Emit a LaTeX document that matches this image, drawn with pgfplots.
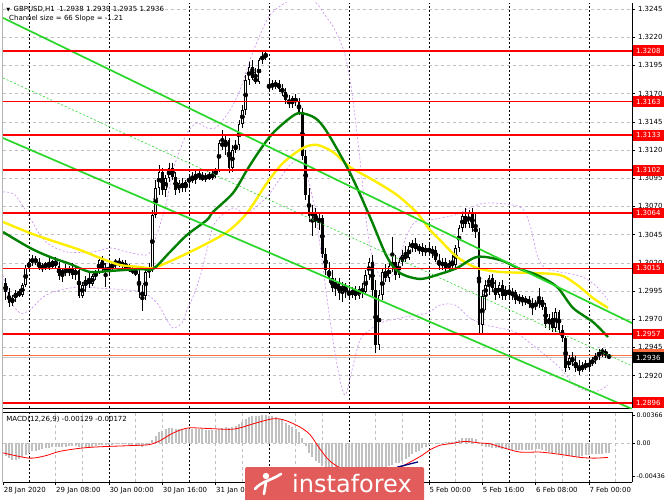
\documentclass[border=0pt]{standalone}
\usepackage{pgfplots}
\pgfplotsset{compat=1.18}
\usepackage{pgfplotstable}
\usepackage{fontspec}
\setmainfont{DejaVu Sans}
\definecolor{mtred}{RGB}{255,0,0}
\definecolor{chan}{RGB}{40,215,40}
\definecolor{maA}{RGB}{0,128,0}
\definecolor{maB}{RGB}{255,238,0}
\definecolor{bbc}{RGB}{200,140,240}
\definecolor{gridc}{RGB}{192,192,192}
\definecolor{histc}{RGB}{192,192,192}
\definecolor{wm}{RGB}{226,92,92}
\definecolor{askc}{RGB}{255,110,60}

\pgfplotstableread{
i o h l c
-7 1.30021 1.30066 1.29871 1.29942
-6 1.29942 1.29977 1.29809 1.29844
-5 1.29844 1.29915 1.29817 1.29888
-4 1.29888 1.29959 1.29853 1.29933
-3 1.29933 1.29968 1.29897 1.29915
-2 1.29915 1.30021 1.29897 1.30004
-1 1.30004 1.30181 1.29986 1.30154
0 1.30154 1.30243 1.30119 1.30208
1 1.30208 1.30270 1.30172 1.30234
2 1.30234 1.30261 1.30181 1.30208
3 1.30208 1.30243 1.30137 1.30154
4 1.30154 1.30199 1.30119 1.30172
5 1.30172 1.30208 1.30137 1.30190
6 1.30190 1.30243 1.30137 1.30163
7 1.30163 1.30225 1.30145 1.30216
8 1.30216 1.30252 1.30154 1.30172
9 1.30172 1.30208 1.30048 1.30083
10 1.30083 1.30154 1.30030 1.30137
11 1.30137 1.30190 1.30083 1.30119
12 1.30119 1.30172 1.30083 1.30154
13 1.30154 1.30199 1.30057 1.30092
14 1.30092 1.30172 1.30048 1.30137
15 1.30137 1.30154 1.29888 1.29906
16 1.29906 1.30030 1.29888 1.30004
17 1.30004 1.30083 1.29942 1.30048
18 1.30048 1.30119 1.29977 1.30012
19 1.30012 1.30101 1.29995 1.30083
20 1.30083 1.30137 1.30048 1.30119
21 1.30119 1.30243 1.30101 1.30225
22 1.30225 1.30261 1.30119 1.30154
23 1.30154 1.30199 1.29986 1.30128
24 1.30128 1.30190 1.30101 1.30163
25 1.30163 1.30208 1.30137 1.30190
26 1.30190 1.30234 1.30154 1.30216
27 1.30216 1.30243 1.30163 1.30181
28 1.30181 1.30225 1.30154 1.30199
29 1.30199 1.30225 1.30137 1.30154
30 1.30154 1.30190 1.30119 1.30137
31 1.30137 1.30172 1.30101 1.30128
32 1.30128 1.30163 1.30083 1.30101
33 1.30101 1.30137 1.29888 1.29942
34 1.29942 1.30004 1.29773 1.29906
35 1.29906 1.30154 1.29871 1.30119
36 1.30119 1.30199 1.30066 1.30154
37 1.30154 1.30668 1.30119 1.30624
38 1.30624 1.30934 1.30598 1.30863
39 1.30863 1.31067 1.30801 1.31005
40 1.31005 1.31041 1.30801 1.30846
41 1.30846 1.30979 1.30784 1.30952
42 1.30952 1.31085 1.30917 1.31041
43 1.31041 1.31085 1.30934 1.30961
44 1.30961 1.31005 1.30801 1.30846
45 1.30846 1.30934 1.30819 1.30908
46 1.30908 1.30952 1.30828 1.30863
47 1.30863 1.30934 1.30828 1.30917
48 1.30917 1.30979 1.30881 1.30952
49 1.30952 1.31005 1.30908 1.30934
50 1.30934 1.31014 1.30899 1.30988
51 1.30988 1.31023 1.30934 1.30961
52 1.30961 1.31005 1.30926 1.30943
53 1.30943 1.30997 1.30917 1.30970
54 1.30970 1.31005 1.30934 1.30952
55 1.30952 1.31014 1.30934 1.30988
56 1.30988 1.31041 1.30952 1.31023
57 1.31023 1.31289 1.31005 1.31262
58 1.31262 1.31378 1.31200 1.31236
59 1.31236 1.31333 1.31156 1.31289
60 1.31289 1.31307 1.30997 1.31041
61 1.31041 1.31245 1.31005 1.31200
62 1.31200 1.31289 1.31174 1.31245
63 1.31245 1.31466 1.31200 1.31431
64 1.31431 1.31599 1.31395 1.31555
65 1.31555 1.31865 1.31511 1.31821
66 1.31821 1.31981 1.31777 1.31936
67 1.31936 1.31998 1.31821 1.31839
68 1.31839 1.31927 1.31785 1.31803
69 1.31803 1.32016 1.31785 1.31998
70 1.31998 1.32069 1.31963 1.32034
71 1.32034 1.32087 1.31998 1.32043
72 1.31750 1.31821 1.31715 1.31777
73 1.31777 1.31821 1.31732 1.31768
74 1.31768 1.31821 1.31741 1.31794
75 1.31794 1.31821 1.31715 1.31741
76 1.31741 1.31785 1.31679 1.31715
77 1.31715 1.31750 1.31608 1.31644
78 1.31644 1.31688 1.31573 1.31608
79 1.31608 1.31679 1.31573 1.31661
80 1.31661 1.31697 1.31590 1.31626
81 1.31626 1.31661 1.31511 1.31537
82 1.31537 1.31573 1.31112 1.31147
83 1.31147 1.31200 1.30757 1.30801
84 1.30801 1.30863 1.30562 1.30615
85 1.30615 1.30713 1.30438 1.30651
86 1.30651 1.30686 1.30509 1.30562
87 1.30562 1.30651 1.30491 1.30598
88 1.30598 1.30624 1.30243 1.30278
89 1.30278 1.30332 1.30092 1.30137
90 1.30137 1.30208 1.30021 1.30066
91 1.30066 1.30137 1.29942 1.29977
92 1.29977 1.30066 1.29906 1.30030
93 1.30030 1.30066 1.29871 1.29933
94 1.29933 1.30030 1.29853 1.29995
95 1.29995 1.30021 1.29888 1.29942
96 1.29942 1.30004 1.29871 1.29915
97 1.29915 1.29986 1.29888 1.29959
98 1.29959 1.29995 1.29871 1.29906
99 1.29906 1.29995 1.29880 1.29968
100 1.29968 1.30021 1.29888 1.29942
101 1.29942 1.30137 1.29924 1.30092
102 1.30092 1.30243 1.30048 1.30208
103 1.30208 1.30270 1.29906 1.29959
104 1.29959 1.30048 1.29401 1.29472
105 1.29472 1.29959 1.29427 1.29915
106 1.29915 1.30154 1.29871 1.30119
107 1.30119 1.30190 1.30030 1.30066
108 1.30066 1.30208 1.30030 1.30172
109 1.30172 1.30429 1.30119 1.30208
110 1.30208 1.30270 1.30048 1.30092
111 1.30092 1.30243 1.30066 1.30208
112 1.30208 1.30314 1.30172 1.30270
113 1.30270 1.30349 1.30208 1.30243
114 1.30243 1.30385 1.30225 1.30349
115 1.30349 1.30402 1.30296 1.30367
116 1.30367 1.30420 1.30296 1.30323
117 1.30323 1.30367 1.30278 1.30340
118 1.30340 1.30376 1.30261 1.30296
119 1.30296 1.30358 1.30261 1.30332
120 1.30332 1.30367 1.30261 1.30296
121 1.30296 1.30349 1.30243 1.30314
122 1.30314 1.30349 1.30208 1.30225
123 1.30225 1.30278 1.30137 1.30172
124 1.30172 1.30243 1.30137 1.30208
125 1.30208 1.30243 1.30119 1.30154
126 1.30154 1.30225 1.30119 1.30199
127 1.30199 1.30270 1.30137 1.30181
128 1.30181 1.30358 1.30154 1.30332
129 1.30332 1.30535 1.30296 1.30509
130 1.30509 1.30651 1.30473 1.30615
131 1.30615 1.30686 1.30509 1.30543
132 1.30543 1.30668 1.30509 1.30642
133 1.30642 1.30686 1.30473 1.30509
134 1.30509 1.30633 1.30420 1.30473
135 1.30473 1.30509 1.29560 1.29649
136 1.29649 1.29959 1.29569 1.29906
137 1.29906 1.30048 1.29782 1.30004
138 1.30004 1.30092 1.29915 1.30066
139 1.30066 1.30101 1.29942 1.29977
140 1.29977 1.30048 1.29871 1.29915
141 1.29915 1.30030 1.29888 1.30004
142 1.30004 1.30048 1.29871 1.29906
143 1.29906 1.29995 1.29871 1.29959
144 1.29959 1.30004 1.29888 1.29915
145 1.29915 1.29977 1.29871 1.29942
146 1.29942 1.29959 1.29835 1.29871
147 1.29871 1.29924 1.29835 1.29897
148 1.29897 1.29915 1.29817 1.29853
149 1.29853 1.29906 1.29826 1.29880
150 1.29880 1.29906 1.29800 1.29835
151 1.29835 1.29888 1.29738 1.29817
152 1.29817 1.29871 1.29782 1.29844
153 1.29844 1.29977 1.29800 1.29871
154 1.29871 1.29897 1.29782 1.29809
155 1.29809 1.29844 1.29622 1.29658
156 1.29658 1.29747 1.29605 1.29711
157 1.29711 1.29764 1.29587 1.29622
158 1.29622 1.29800 1.29587 1.29764
159 1.29764 1.29782 1.29578 1.29605
160 1.29605 1.29649 1.29498 1.29534
161 1.29534 1.29552 1.29232 1.29268
162 1.29268 1.29383 1.29250 1.29356
163 1.29356 1.29410 1.29286 1.29321
164 1.29321 1.29374 1.29232 1.29268
165 1.29268 1.29339 1.29206 1.29250
166 1.29250 1.29321 1.29232 1.29294
167 1.29294 1.29339 1.29250 1.29277
168 1.29277 1.29339 1.29250 1.29312
169 1.29312 1.29365 1.29286 1.29339
170 1.29339 1.29401 1.29303 1.29374
171 1.29374 1.29436 1.29339 1.29410
172 1.29410 1.29445 1.29365 1.29418
173 1.29418 1.29436 1.29356 1.29383
174 1.29380 1.29390 1.29350 1.29360
}\candles

\pgfplotstableread{
i v
-7 -0.0017
-6 -0.0020
-5 -0.0022
-4 -0.0022
-3 -0.0021
-2 -0.0019
-1 -0.0016
0 -0.0013
1 -0.0011
2 -0.0010
3 -0.0009
4 -0.0008
5 -0.0007
6 -0.0006
7 -0.0005
8 -0.0005
9 -0.0005
10 -0.0005
11 -0.0005
12 -0.0004
13 -0.0004
14 -0.0004
15 -0.0005
16 -0.0006
17 -0.0006
18 -0.0005
19 -0.0005
20 -0.0004
21 -0.0003
22 -0.0003
23 -0.0003
24 -0.0003
25 -0.0003
26 -0.0002
27 -0.0002
28 -0.0002
29 -0.0002
30 -0.0003
31 -0.0003
32 -0.0003
33 -0.0004
34 -0.0005
35 -0.0003
36 -0.0001
37 0.0004
38 0.0009
39 0.0014
40 0.0016
41 0.0018
42 0.0020
43 0.0020
44 0.0019
45 0.0019
46 0.0019
47 0.0019
48 0.0019
49 0.0018
50 0.0018
51 0.0018
52 0.0018
53 0.0017
54 0.0017
55 0.0017
56 0.0017
57 0.0019
58 0.0020
59 0.0021
60 0.0020
61 0.0021
62 0.0022
63 0.0025
64 0.0028
65 0.0031
66 0.0034
67 0.0035
68 0.0035
69 0.0036
70 0.0037
71 0.0037
72 0.0036
73 0.0035
74 0.0034
75 0.0032
76 0.0030
77 0.0027
78 0.0024
79 0.0021
80 0.0018
81 0.0014
82 0.0006
83 -0.0004
84 -0.0013
85 -0.0019
86 -0.0024
87 -0.0027
88 -0.0031
89 -0.0035
90 -0.0038
91 -0.0041
92 -0.0042
93 -0.0043
94 -0.0044
95 -0.0044
96 -0.0043
97 -0.0042
98 -0.0041
99 -0.0040
100 -0.0038
101 -0.0036
102 -0.0033
103 -0.0033
104 -0.0037
105 -0.0036
106 -0.0034
107 -0.0032
108 -0.0030
109 -0.0029
110 -0.0027
111 -0.0026
112 -0.0024
113 -0.0021
114 -0.0018
115 -0.0015
116 -0.0012
117 -0.0010
118 -0.0007
119 -0.0005
120 -0.0003
121 -0.0002
122 -0.0001
123 -0.0001
124 0.0000
125 0.0001
126 0.0001
127 0.0001
128 0.0002
129 0.0004
130 0.0006
131 0.0007
132 0.0007
133 0.0006
134 0.0005
135 -0.0002
136 -0.0004
137 -0.0005
138 -0.0005
139 -0.0006
140 -0.0007
141 -0.0007
142 -0.0008
143 -0.0008
144 -0.0009
145 -0.0009
146 -0.0009
147 -0.0009
148 -0.0009
149 -0.0009
150 -0.0009
151 -0.0009
152 -0.0008
153 -0.0008
154 -0.0009
155 -0.0011
156 -0.0012
157 -0.0013
158 -0.0013
159 -0.0014
160 -0.0015
161 -0.0016
162 -0.0017
163 -0.0017
164 -0.0018
165 -0.0018
166 -0.0017
167 -0.0016
168 -0.0016
169 -0.0015
170 -0.0015
171 -0.0014
172 -0.0014
173 -0.0013
174 -0.0013
}\hist

\begin{document}
\begin{tikzpicture}
\useasboundingbox (0,0) rectangle (665pt,499pt);
\fill[white] (0,0) rectangle (665pt,499pt);

% ---------------- main price panel ----------------
\begin{axis}[
  at={(3pt,91pt)}, anchor=south west, scale only axis,
  width=629pt, height=405pt,
  xmin=-7.8, xmax=180.9, ymin=1.289128, ymax=1.325032,
  clip mode=individual,
  axis x line*=bottom, axis y line*=right,
  axis line style={-, black, line width=0.6pt},
  xtick=\empty,
  minor xtick={8,16,32,40,56,64,80,88,104,112,128,136,152,160,176},
  xminorgrids=true,
  minor grid style={gridc, dash pattern=on 3pt off 3pt, line width=0.5pt},
  minor tick length=0pt,
  extra x ticks={0,24,48,72,96,120,144,168},
  extra x tick labels={},
  extra x tick style={xmajorgrids=true, major tick length=0pt,
     major grid style={black, dash pattern=on 2pt off 2pt, line width=0.6pt}},
  ytick={1.2920,1.2945,1.2970,1.2995,1.3020,1.3045,1.3070,1.3095,1.3120,1.3145,1.3170,1.3195,1.3220,1.3245},
  yticklabels={1.2920,1.2945,1.2970,1.2995,1.3020,1.3045,1.3070,1.3095,1.3120,1.3145,1.3170,1.3195,1.3220,1.3245},
  scaled y ticks=false,
  ymajorgrids=true,
  major grid style={gridc, dash pattern=on 3pt off 3pt, line width=0.5pt},
  tick align=outside, major tick length=3pt,
  ytick style={black, line width=0.5pt},
  yticklabel style={font=\fontsize{7}{8}\selectfont, xshift=-0.5pt},
]
% bid / ask lines
\addplot[gray!45, line width=1.6pt, forget plot] coordinates {(-7.8,1.2936) (180.9,1.2936)};
\addplot[askc, line width=0.8pt, forget plot] coordinates {(-7.8,1.2938) (180.9,1.2938)};

% Bollinger bands
\addplot[bbc, line width=0.6pt, dash pattern=on 2pt off 2pt, smooth, tension=0.5, forget plot] coordinates {
(-7.8,1.30828) (-4.2,1.30801) (0.3,1.30598) (3.3,1.30447) (6.3,1.30358) (11.4,1.30296) (19.2,1.30296) (24.3,1.30332) (29.4,1.30296) (35.4,1.30270) (37.2,1.30358) (39.3,1.30535) (41.4,1.30757) (43.2,1.31023) (45.3,1.31200) (47.4,1.31351) (50.4,1.31440) (53.4,1.31395) (56.4,1.31404) (60.3,1.31555) (63.3,1.31732) (66.3,1.31998) (69.3,1.32220) (72.3,1.32397) (76.8,1.32504) (81.3,1.32548) (85.8,1.32512) (88.8,1.32397) (91.8,1.32264) (94.8,1.32043) (96.9,1.31706) (99.3,1.31112) (101.4,1.30518) (103.2,1.30225) (106.2,1.30048) (109.8,1.30119) (112.8,1.30402) (115.8,1.30562) (120.3,1.30580) (127.8,1.30624) (132.3,1.30686) (137.4,1.30731) (147.3,1.30695) (150.3,1.30535) (152.4,1.30270) (154.8,1.30154) (159.3,1.30119) (165.3,1.30083) (169.8,1.30004) (173.7,1.29871)};
\addplot[bbc, line width=0.6pt, dash pattern=on 2pt off 2pt, smooth, tension=0.5, forget plot] coordinates {
(-7.8,1.30092) (-5.7,1.29871) (-2.7,1.29755) (0.3,1.29782) (4.2,1.29897) (9.3,1.29959) (15.3,1.29986) (20.4,1.29977) (29.4,1.29959) (34.2,1.29942) (38.4,1.29844) (41.4,1.29693) (43.2,1.29622) (45.9,1.29667) (47.4,1.29782) (49.2,1.29897) (51.3,1.30075) (53.4,1.30314) (55.2,1.30518) (57.3,1.30606) (61.2,1.30686) (65.4,1.30642) (71.4,1.30784) (74.4,1.30908) (78.3,1.31067) (81.3,1.31112) (83.4,1.30979) (85.8,1.30668) (87.9,1.30225) (90.3,1.29693) (92.7,1.29250) (94.8,1.29028) (96.9,1.29250) (99.3,1.29516) (102.3,1.29605) (105.3,1.29667) (111.3,1.29711) (119.4,1.29755) (123.3,1.29826) (127.8,1.29826) (132.3,1.29711) (136.8,1.29649) (141.3,1.29622) (145.8,1.29587) (150.3,1.29489) (154.8,1.29383) (159.3,1.29268) (163.8,1.29117) (168.3,1.29055) (171.3,1.29072) (173.7,1.29117)};

% candles: wicks
\addplot[only marks, mark=none, forget plot,
  error bars/.cd, y dir=both, y explicit, error mark=none,
  error bar style={black, line width=0.7pt}]
  table[x=i, y expr={(\thisrow{h}+\thisrow{l})/2}, y error expr={(\thisrow{h}-\thisrow{l})/2}] {\candles};
% candles: bodies
\addplot[only marks, mark=none, forget plot,
  error bars/.cd, y dir=both, y explicit, error mark=none,
  error bar style={black, line width=2.6pt}]
  table[x=i, y expr={(\thisrow{o}+\thisrow{c})/2}, y error expr={max(abs(\thisrow{o}-\thisrow{c})/2,0.00004)}] {\candles};
% bullish bodies: white inside
\addplot[only marks, mark=none, forget plot,
  error bars/.cd, y dir=both, y explicit, error mark=none,
  error bar style={white, line width=1.0pt}]
  table[x=i, y expr={(\thisrow{o}+\thisrow{c})/2}, y error expr={(\thisrow{c}>\thisrow{o})*max(abs(\thisrow{c}-\thisrow{o})/2-0.00007,0)}] {\candles};

% moving averages
\addplot[maB, line width=2.4pt, smooth, tension=0.5, forget plot] coordinates {
(-7.8,1.30562) (0.3,1.30464) (6.3,1.30402) (15.3,1.30314) (21.3,1.30243) (27.3,1.30181) (33.3,1.30163) (37.2,1.30154) (43.2,1.30225) (51.3,1.30340) (59.4,1.30473) (65.4,1.30642) (71.4,1.30908) (76.2,1.31085) (82.2,1.31218) (86.4,1.31245) (91.2,1.31182) (96.3,1.31049) (103.2,1.30934) (110.4,1.30801) (116.4,1.30642) (120.3,1.30491) (123.3,1.30402) (128.4,1.30252) (134.4,1.30154) (141.3,1.30119) (150.3,1.30110) (159.3,1.30092) (164.4,1.30004) (169.2,1.29888) (173.7,1.29800)};
\addplot[maA, line width=2.4pt, smooth, tension=0.5, forget plot] coordinates {
(-7.8,1.30473) (0.3,1.30332) (6.3,1.30252) (12.3,1.30190) (18.3,1.30119) (24.3,1.30128) (33.3,1.30145) (37.2,1.30145) (42.3,1.30296) (47.4,1.30447) (53.4,1.30580) (55.2,1.30651) (61.2,1.30819) (65.4,1.31023) (69.3,1.31200) (73.2,1.31351) (78.3,1.31484) (81.3,1.31528) (85.8,1.31484) (89.4,1.31360) (96.3,1.30997) (102.3,1.30606) (107.4,1.30252) (111.3,1.30110) (117.3,1.30057) (123.3,1.30101) (128.4,1.30154) (134.4,1.30252) (141.3,1.30225) (147.3,1.30145) (152.4,1.30092) (158.4,1.29986) (163.2,1.29800) (169.2,1.29675) (173.7,1.29542)};

% regression channel
\addplot[chan, line width=1.7pt, forget plot] coordinates {(-7.8,1.32371) (180.9,1.29666)};
\addplot[chan, line width=1.7pt, forget plot] coordinates {(-7.8,1.31306) (180.9,1.28905)};
\addplot[chan, line width=0.6pt, dash pattern=on 2pt off 2pt, forget plot] coordinates {(-7.8,1.31839) (180.9,1.29286)};

% horizontal levels
\pgfplotsinvokeforeach{1.3208,1.3163,1.3133,1.3102,1.3064,1.3015,1.2957,1.2896}{
  \addplot[mtred, line width=1.8pt, forget plot] coordinates {(-7.8,#1) (180.9,#1)};
}

\coordinate (r1) at (axis cs:180.9,1.3208);
\coordinate (r2) at (axis cs:180.9,1.3163);
\coordinate (r3) at (axis cs:180.9,1.3133);
\coordinate (r4) at (axis cs:180.9,1.3102);
\coordinate (r5) at (axis cs:180.9,1.3064);
\coordinate (r6) at (axis cs:180.9,1.3015);
\coordinate (r7) at (axis cs:180.9,1.2957);
\coordinate (r8) at (axis cs:180.9,1.2896);
\coordinate (ra) at (axis cs:180.9,1.2939);
\coordinate (rb) at (axis cs:180.9,1.2936);

\node[anchor=west, inner sep=0pt, font=\fontsize{7}{8}\selectfont] at (rel axis cs:0.005,0.985)
  {{\fontsize{5}{5}\selectfont ▼}\, GBPUSD,H1\ \ 1.2938 1.2939 1.2935 1.2936};
\node[anchor=west, inner sep=0pt, font=\fontsize{7}{8}\selectfont] at (rel axis cs:0.0095,0.961)
  {Channel size = 66 Slope = -1.21};
\end{axis}

% ---------------- MACD panel ----------------
\begin{axis}[
  at={(3pt,17pt)}, anchor=south west, scale only axis,
  width=629pt, height=70pt,
  xmin=-7.8, xmax=180.9, ymin=-0.00515, ymax=0.00409,
  clip mode=individual,
  axis x line*=bottom, axis y line*=right,
  axis line style={-, black, line width=0.6pt},
  xtick={-7.7,8,24,40,56,120,136,152,168},
  xticklabels={28 Jan 2020,29 Jan 08:00,30 Jan 00:00,30 Jan 16:00,31 Jan 08:00,5 Feb 00:00,5 Feb 16:00,6 Feb 08:00,7 Feb 00:00},
  xticklabel style={anchor=north west, xshift=-3pt, yshift=1pt, font=\fontsize{7}{8}\selectfont},
  minor xtick={8,16,32,40,56,64,80,88,104,112,128,136,152,160,176},
  xminorgrids=true,
  minor grid style={gridc, dash pattern=on 3pt off 3pt, line width=0.5pt},
  minor tick length=0pt,
  extra x ticks={0,24,48,72,96,120,144,168},
  extra x tick labels={},
  extra x tick style={xmajorgrids=true, major tick length=0pt,
     major grid style={black, dash pattern=on 2pt off 2pt, line width=0.6pt}},
  ytick={-0.00436,0.00366},
  yticklabels={-0.00436,0.00366},
  extra y ticks={0},
  extra y tick labels={0.00},
  extra y tick style={ymajorgrids=true, major grid style={gridc, dash pattern=on 3pt off 3pt, line width=0.5pt}},
  scaled y ticks=false,
  tick align=outside, major tick length=3pt,
  tick style={black, line width=0.5pt},
  yticklabel style={font=\fontsize{6.3}{7}\selectfont, xshift=-2pt},
]
\addplot[ycomb, histc, line width=2pt, mark=none, forget plot] table[x=i, y=v] {\hist};
\addplot[red, line width=0.8pt, smooth, tension=0.5, forget plot] coordinates {
(-7.8,-0.0013) (0,-0.0020) (4.8,-0.0017) (9.3,-0.0011) (15.3,-0.0007) (21.3,-0.0005) (33.3,-0.0003) (36.3,-0.0002) (39.3,0.0003) (42.3,0.0011) (45.3,0.0017) (48.3,0.0020) (54.3,0.0019) (60.3,0.0018) (63.3,0.0020) (67.8,0.0026) (73.2,0.0032) (76.8,0.0030) (81.3,0.0021) (84.3,0.0011) (87.3,-0.0008) (90.3,-0.0024) (94.8,-0.0036) (100.8,-0.0040) (106.8,-0.0038) (111.3,-0.0032) (117.3,-0.0018) (120.3,-0.0009) (123.3,-0.0003) (126.3,-0.0001) (130.8,0.0002) (135.3,0.0000) (138.3,-0.0001) (141.3,-0.0005) (147.3,-0.0012) (153.3,-0.0012) (159.3,-0.0015) (165.3,-0.0019) (169.8,-0.0020) (173.7,-0.0019)};
\addplot[blue!50!black, line width=1.3pt, forget plot] coordinates {(110.4,-0.0032) (116.7,-0.0025)};
\draw[black, line width=0.6pt] (rel axis cs:0,1) -- (rel axis cs:1,1);
\node[anchor=west, inner sep=0pt, font=\fontsize{7}{8}\selectfont] at (rel axis cs:0.005,0.9)
  {MACD(12,26,9) -0.00129 -0.00172};
\end{axis}

% left frame line
\draw[gray!60, line width=1pt] (2pt,17pt) -- (2pt,496pt);

% red price labels
\tikzset{redlab/.style={anchor=west, fill=mtred, text=white, inner xsep=2.6pt, inner ysep=0pt,
  minimum height=10.5pt, minimum width=31pt, font=\fontsize{7}{8}\selectfont, xshift=0.6pt}}
\node[redlab] at (r1) {1.3208};
\node[redlab] at (r2) {1.3163};
\node[redlab] at (r3) {1.3133};
\node[redlab] at (r4) {1.3102};
\node[redlab] at (r5) {1.3064};
\node[redlab] at (r6) {1.3015};
\node[redlab] at (r7) {1.2957};
\node[redlab] at (r8) {1.2896};
\fill[askc] ([xshift=0.6pt,yshift=-5.25pt]ra) rectangle ++(31pt,10.5pt);
\node[redlab, fill=black] at (rb) {1.2936};

% watermark
\fill[wm, rounded corners=2pt] (245pt,-4pt) rectangle (424pt,32pt);
\fill[white] (266pt,23pt) circle (3.2pt);
\draw[white, line width=2.6pt, line cap=round] (255pt,10pt) .. controls (262pt,18pt) and (270pt,18pt) .. (281pt,25pt);
\draw[white, line width=2.6pt, line cap=round] (266pt,17pt) -- (264pt,5pt);
\node[anchor=base, text=white, inner sep=0pt, font=\fontsize{24}{24}\selectfont] at (352pt,7pt) {instaforex};
\end{tikzpicture}
\end{document}
